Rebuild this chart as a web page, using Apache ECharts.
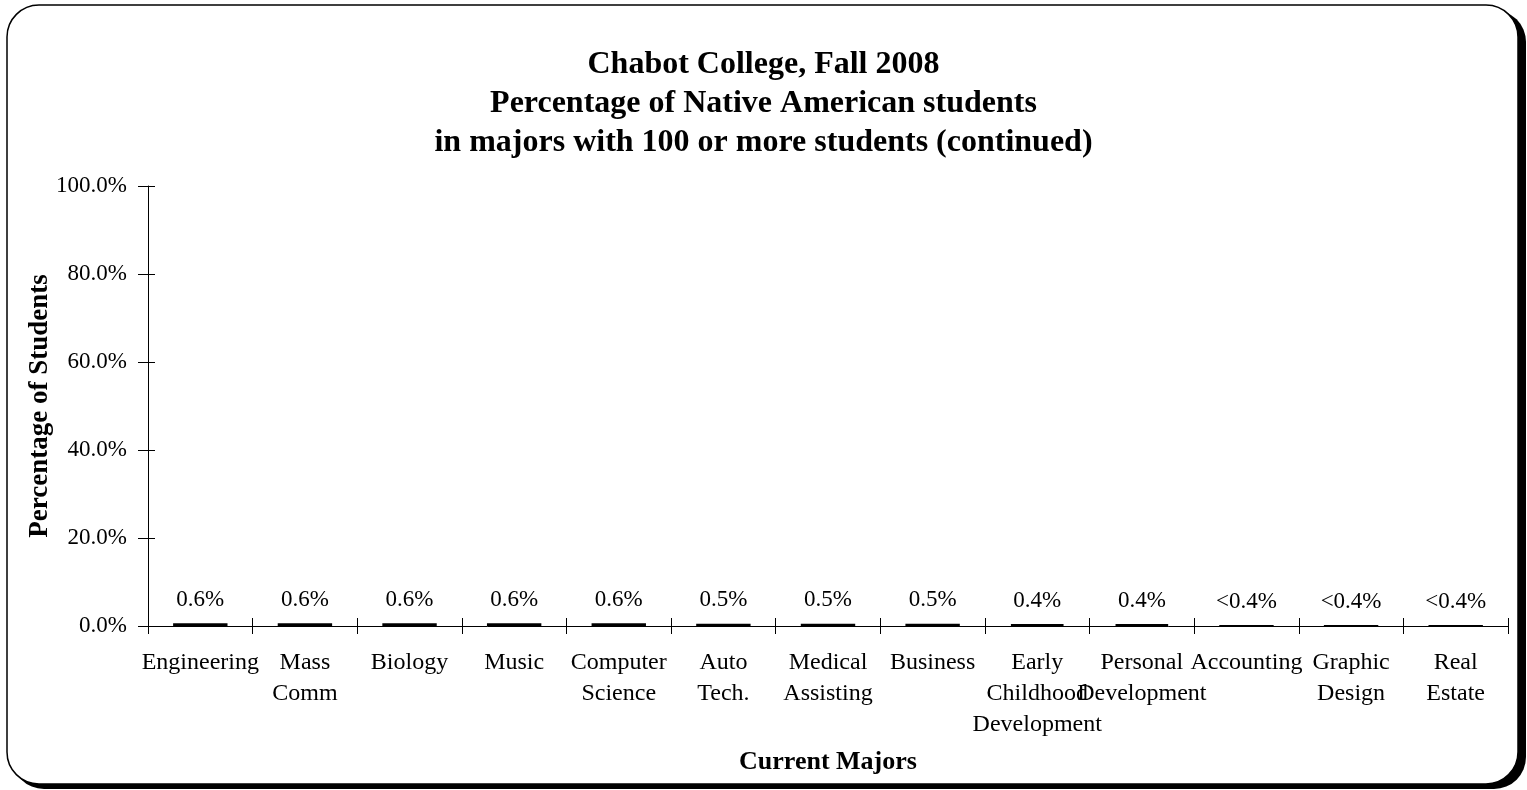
<!DOCTYPE html>
<html><head><meta charset="utf-8">
<script src="https://cdn.jsdelivr.net/npm/echarts@6/dist/echarts.min.js"></script>
<style>html,body{margin:0;padding:0;background:#fff}#c{width:1527px;height:790px}</style>
</head><body><div id="c"></div>
<script>
const categories = ["Engineering","Mass\nComm","Biology","Music","Computer\nScience","Auto\nTech.","Medical\nAssisting","Business","Early\nChildhood\nDevelopment","Personal\nDevelopment","Accounting","Graphic\nDesign","Real\nEstate"];
const values = [0.6,0.6,0.6,0.6,0.6,0.5,0.5,0.5,0.4,0.4,0,0,0];
const valueLabels = ["0.6%","0.6%","0.6%","0.6%","0.6%","0.5%","0.5%","0.5%","0.4%","0.4%","<0.4%","<0.4%","<0.4%"];
const yTicks = ["0.0%","20.0%","40.0%","60.0%","80.0%","100.0%"];

const font = "'Liberation Serif','Times New Roman',serif";
const chart = echarts.init(document.getElementById('c'));
chart.setOption({
  animation:false,
  graphic:[
    {type:'rect',z:-10,shape:{x:12,y:10,width:1514,height:779,r:32},style:{fill:'#000'}},
    {type:'rect',z:-9,shape:{x:7,y:5,width:1511,height:779,r:32},style:{fill:'#fff',stroke:'#000',lineWidth:1.5}}
  ],
  title:{text:'Chabot College, Fall 2008\nPercentage of Native American students\nin majors with 100 or more students (continued)',
    left:'center',top:40,textStyle:{fontFamily:font,fontWeight:'bold',fontSize:32,lineHeight:39,color:'#000'}},
  grid:{left:148,right:19,top:186,bottom:164,containLabel:false},
  xAxis:[{type:'category',data:categories,
    name:'Current Majors',nameLocation:'middle',nameGap:123,
    nameTextStyle:{fontFamily:font,fontWeight:'bold',fontSize:26,color:'#000'},
    axisLine:{lineStyle:{color:'#000',width:1}},
    axisTick:{show:true,length:8,lineStyle:{color:'#000'}},
    axisLabel:{fontFamily:font,fontSize:24,color:'#000',lineHeight:31,margin:21,interval:0}},
    {type:'category',data:categories,position:'bottom',
    axisLine:{show:false},axisTick:{show:true,inside:true,length:8,lineStyle:{color:'#000'}},axisLabel:{show:false}}],
  yAxis:[{type:'value',min:0,max:100,interval:20,
    name:'Percentage of Students',nameLocation:'middle',nameGap:94,nameMoveOverlap:false,
    nameTextStyle:{fontFamily:font,fontWeight:'bold',fontSize:27,color:'#000'},
    axisLine:{show:true,lineStyle:{color:'#000',width:1}},
    axisTick:{show:true,length:10,lineStyle:{color:'#000'}},
    splitLine:{show:false},
    axisLabel:{fontFamily:font,fontSize:23,color:'#000',margin:21,formatter:(v)=>yTicks[Math.round(v/20)]}},
    {type:'value',min:0,max:100,interval:20,position:'left',
    axisLine:{show:false},axisTick:{show:true,inside:true,length:7,lineStyle:{color:'#000'}},
    axisLabel:{show:false},splitLine:{show:false}}],
  series:[{type:'bar',data:values,barWidth:'52%',
    itemStyle:{color:'#000080',borderColor:'#000',borderWidth:2},
    label:{show:true,position:'top',distance:12,fontFamily:font,fontSize:23,color:'#000',
      formatter:(p)=>valueLabels[p.dataIndex]}}]
});
</script></body></html>
